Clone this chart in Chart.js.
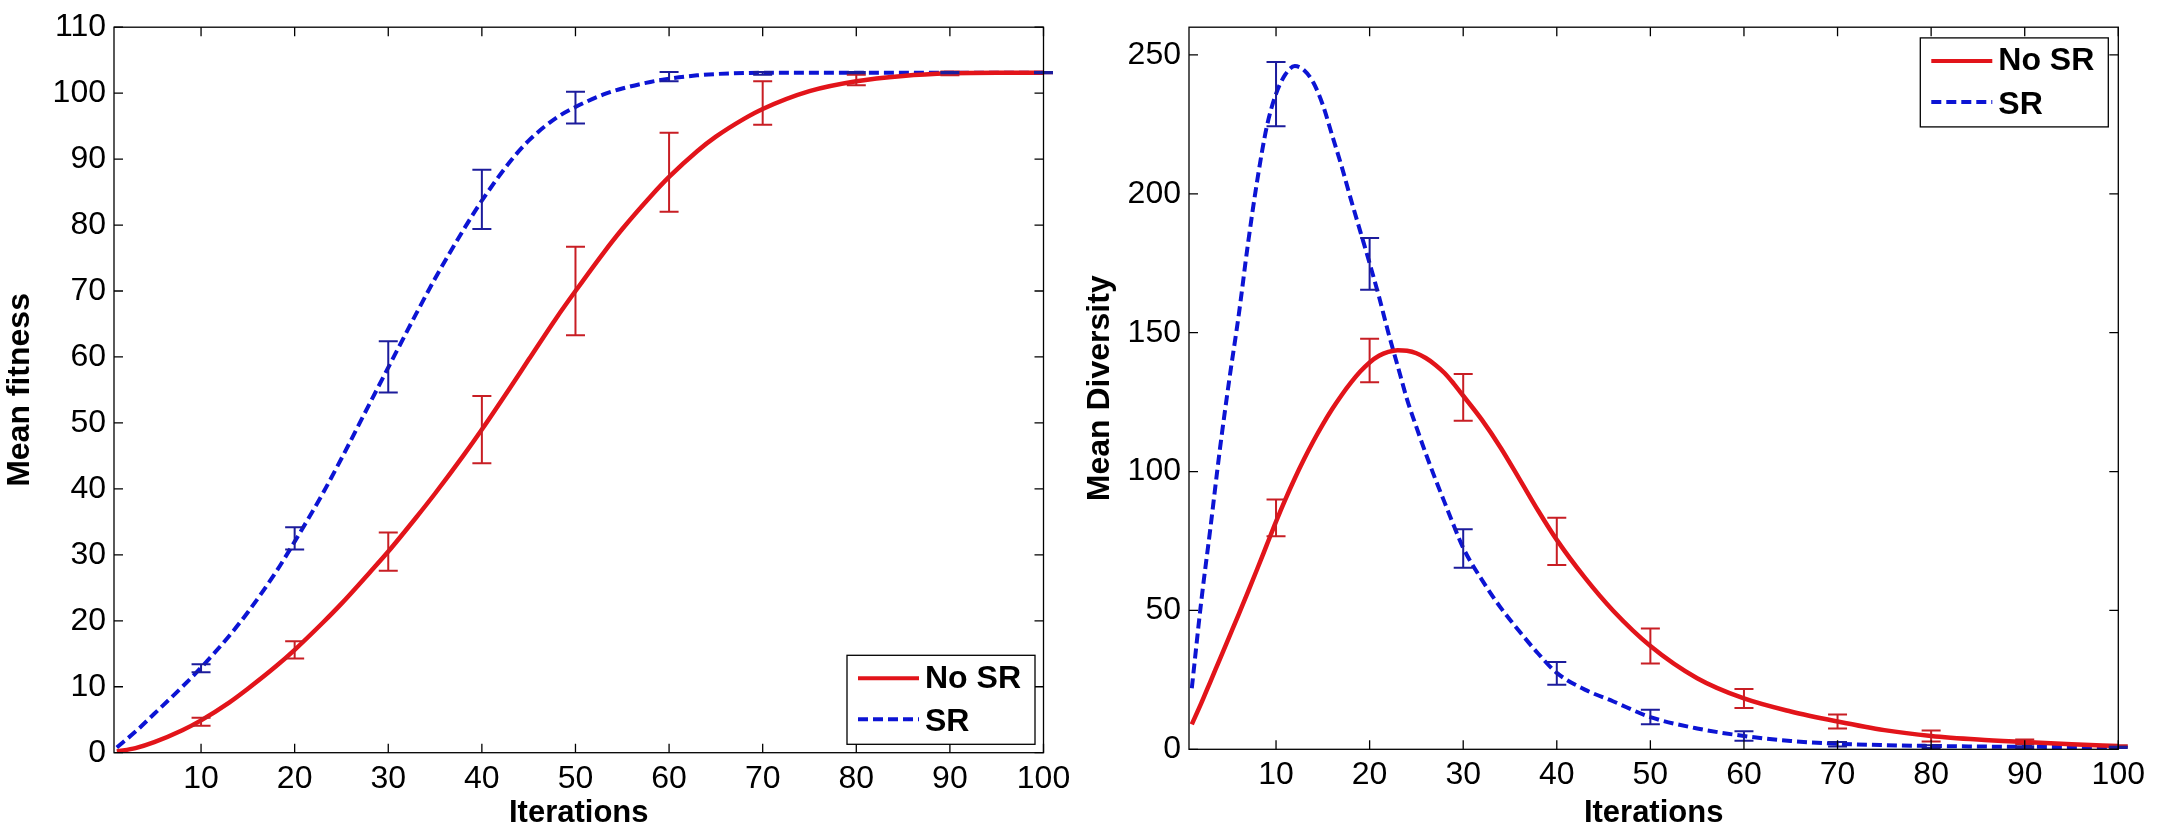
<!DOCTYPE html>
<html>
<head>
<meta charset="utf-8">
<script src="https://cdn.jsdelivr.net/npm/chart.js@4.4.1/dist/chart.umd.min.js"></script>
<style>
  html, body { margin: 0; padding: 0; background: #fff; }
  body { width: 2160px; height: 832px; position: relative; overflow: hidden; }
  .box { position: absolute; top: 0; width: 1080px; height: 832px; }
</style>
</head>
<body>
<div class="box" style="left:0"><canvas id="fitChart"></canvas></div>
<div class="box" style="left:1080px"><canvas id="divChart"></canvas></div>
<script>
// ---- data ----
const xTickVals = [10, 20, 30, 40, 50, 60, 70, 80, 90, 100];
const fitTickVals = [0, 10, 20, 30, 40, 50, 60, 70, 80, 90, 100, 110];
const divTickVals = [0, 50, 100, 150, 200, 250];

const fitIters = [1, 3, 5, 8, 10, 13, 15, 18, 20, 23, 25, 28, 30, 33, 35, 38, 40, 43, 45, 48, 50, 53, 55, 58, 60, 63, 65, 68, 70, 75, 80, 85, 90, 95, 100];
const fitNoSR = [0.2, 0.7, 1.6, 3.4, 4.9, 7.6, 9.7, 13.1, 15.6, 19.7, 22.6, 27.3, 30.5, 35.7, 39.3, 45.0, 49.0, 55.3, 59.6, 66.0, 70.0, 75.8, 79.4, 84.3, 87.3, 91.2, 93.4, 96.1, 97.6, 100.3, 101.8, 102.6, 103.0, 103.1, 103.1];
const fitSR = [0.8, 3.2, 5.9, 10.0, 12.9, 17.7, 21.3, 27.4, 32.0, 39.3, 44.6, 52.9, 58.4, 66.6, 71.9, 79.2, 83.7, 89.6, 92.8, 96.3, 97.9, 99.8, 100.7, 101.7, 102.2, 102.7, 102.9, 103.05, 103.1, 103.1, 103.1, 103.1, 103.1, 103.1, 103.1];

const divIters = [1, 2, 3, 4, 5, 6, 7, 8, 9, 10, 11, 12, 13, 14, 15, 16, 17, 18, 19, 20, 21, 22, 23, 24, 25, 26, 27, 28, 29, 30, 32, 34, 36, 38, 40, 43, 46, 50, 55, 60, 65, 70, 75, 80, 85, 90, 95, 100];
const divNoSR = [9, 16.5, 24.5, 32.5, 40.5, 48.5, 56.7, 65, 73.5, 82, 90, 97.5, 104.5, 111, 117, 122.5, 127.5, 132, 136, 139.3, 141.7, 143.1, 143.7, 143.5, 142.6, 140.9, 138.5, 135.5, 131.6, 127.3, 118.6, 108.6, 97.4, 86.0, 75.4, 61.8, 50.0, 37.2, 25.6, 18.3, 13.6, 10.0, 6.9, 4.8, 3.5, 2.6, 1.8, 1.2];
const divSR = [22, 53, 80, 108, 133, 156, 182, 205, 224, 236, 243, 246, 244.5, 240, 232, 221, 210, 198, 186.5, 175, 163, 150, 138, 126, 116, 106.5, 97.5, 89, 80.5, 72.5, 61, 51, 42.5, 34.5, 27.5, 21.5, 17.3, 11.6, 7.5, 4.8, 3.0, 2.0, 1.5, 1.2, 1.0, 0.9, 0.8, 0.7];

// error bars: centre and half-length at every 10 iterations
const errIters = [10, 20, 30, 40, 50, 60, 70, 80, 90, 100];
const fitNoSRMean = [4.7, 15.6, 30.5, 49.0, 70.0, 88.0, 98.5, 102.0, 103.0, 103.1];
const fitNoSRErr = [0.6, 1.3, 2.9, 5.1, 6.7, 6.0, 3.3, 0.8, 0.3, 0.1];
const fitSRMean = [12.8, 32.5, 58.5, 83.9, 97.8, 102.5, 103.0, 103.1, 103.1, 103.1];
const fitSRErr = [0.6, 1.7, 3.9, 4.5, 2.4, 0.7, 0.2, 0.1, 0.1, 0.1];
const divNoSRMean = [83.3, 140.0, 126.7, 74.9, 37.2, 18.3, 10.0, 4.8, 2.7, 1.2];
const divNoSRErr = [6.6, 7.8, 8.4, 8.5, 6.3, 3.4, 2.5, 2.0, 0.8, 0.3];
const divSRMean = [235.9, 174.8, 72.3, 27.3, 11.6, 4.8, 1.8, 1.0, 0.8, 0.7];
const divSRErr = [11.6, 9.3, 6.9, 4.1, 2.6, 1.7, 0.8, 0.5, 0.3, 0.2];

const FONT = "'Liberation Sans', Arial, Helvetica, sans-serif";
const RED = '#e2141a', RED_BAR = '#c81e24';
const BLUE = '#0c14d4', BLUE_BAR = '#1c1c9c';

const toPts = (xs, ys) => xs.map((x, i) => ({x: x, y: ys[i]}));

// error bars drawn through the chart scales
const errorBarPlugin = {
  id: 'errorBars',
  afterDatasetsDraw(chart) {
    const {ctx, scales: {x, y}} = chart;
    ctx.save();
    chart.data.datasets.forEach(ds => {
      if (!ds.errMean) return;
      ctx.strokeStyle = ds.errColor;
      ctx.lineWidth = 2;
      ctx.beginPath();
      errIters.forEach((xv, i) => {
        const px = x.getPixelForValue(xv);
        const top = y.getPixelForValue(ds.errMean[i] + ds.errHalf[i]);
        const bot = y.getPixelForValue(ds.errMean[i] - ds.errHalf[i]);
        ctx.moveTo(px, top); ctx.lineTo(px, bot);
        ctx.moveTo(px - 9.5, top); ctx.lineTo(px + 9.5, top);
        ctx.moveTo(px - 9.5, bot); ctx.lineTo(px + 9.5, bot);
      });
      ctx.stroke();
    });
    ctx.restore();
  }
};

// matlab style box with ticks pointing inwards
const framePlugin = {
  id: 'frame',
  afterDatasetsDraw(chart) {
    const {ctx, chartArea: a, scales: {x, y}} = chart;
    const len = 9;
    ctx.save();
    ctx.strokeStyle = '#000';
    ctx.lineWidth = 1.3;
    ctx.strokeRect(a.left, a.top, a.right - a.left, a.bottom - a.top);
    ctx.beginPath();
    x.ticks.forEach(t => {
      const px = x.getPixelForValue(t.value);
      ctx.moveTo(px, a.bottom); ctx.lineTo(px, a.bottom - len);
      ctx.moveTo(px, a.top); ctx.lineTo(px, a.top + len);
    });
    y.ticks.forEach(t => {
      const py = y.getPixelForValue(t.value);
      ctx.moveTo(a.left, py); ctx.lineTo(a.left + len, py);
      ctx.moveTo(a.right, py); ctx.lineTo(a.right - len, py);
    });
    ctx.stroke();
    ctx.restore();
  }
};

// legend box inside the plot area
const boxLegendPlugin = {
  id: 'boxLegend',
  afterDraw(chart, args, opts) {
    const {ctx, chartArea: a} = chart;
    const w = 188, h = 89;
    const left = a.right - opts.dx - w;
    const top = opts.corner === 'br' ? a.bottom - opts.dy - h : a.top + opts.dy;
    ctx.save();
    ctx.fillStyle = '#fff';
    ctx.fillRect(left, top, w, h);
    ctx.strokeStyle = '#000';
    ctx.lineWidth = 1.3;
    ctx.strokeRect(left, top, w, h);
    const lineY = [23, 64], textY = [23.5, 67];
    chart.data.datasets.forEach((ds, i) => {
      ctx.beginPath();
      ctx.strokeStyle = ds.borderColor;
      ctx.lineWidth = 4;
      ctx.setLineDash(ds.borderDash || []);
      ctx.moveTo(left + 11, top + lineY[i]);
      ctx.lineTo(left + 72, top + lineY[i]);
      ctx.stroke();
      ctx.setLineDash([]);
      ctx.fillStyle = '#000';
      ctx.font = 'bold 32px ' + FONT;
      ctx.textBaseline = 'middle';
      ctx.textAlign = 'left';
      ctx.fillText(ds.label, left + 78, top + textY[i]);
    });
    ctx.restore();
  }
};

function buildOptions(yMax, yTicks, yTitle, yWidth, xHeight, pad, legendOpts) {
  return {
    responsive: true,
    maintainAspectRatio: false,
    animation: false,
    devicePixelRatio: 1,
    layout: { padding: pad },
    elements: { point: { radius: 0 } },
    plugins: {
      legend: { display: false },
      tooltip: { enabled: false },
      boxLegend: legendOpts
    },
    scales: {
      x: {
        type: 'linear', min: 0.7, max: 100,
        afterBuildTicks: s => { s.ticks = xTickVals.map(v => ({value: v})); },
        afterFit: s => { s.height = xHeight; },
        grid: { display: false, drawTicks: false },
        border: { display: false },
        ticks: { color: '#000', font: { family: FONT, size: 32 }, padding: 7, maxRotation: 0 },
        title: { display: true, text: 'Iterations', color: '#000', font: { family: FONT, size: 31, weight: 'bold' }, padding: 0 }
      },
      y: {
        type: 'linear', min: 0, max: yMax,
        afterBuildTicks: s => { s.ticks = yTicks.map(v => ({value: v})); },
        afterFit: s => { s.width = yWidth; },
        grid: { display: false, drawTicks: false },
        border: { display: false },
        ticks: { color: '#000', font: { family: FONT, size: 32 }, padding: 8 },
        title: { display: true, text: yTitle, color: '#000', font: { family: FONT, size: 32, weight: 'bold' }, padding: 1 }
      }
    }
  };
}

function lineSets(noSR, sr, xs, noMean, noErr, srMean, srErr) {
  return [
    { label: 'No SR', data: toPts(xs, noSR), borderColor: RED, borderWidth: 4.5, fill: false,
      cubicInterpolationMode: 'monotone', errMean: noMean, errHalf: noErr, errColor: RED_BAR },
    { label: 'SR', data: toPts(xs, sr), borderColor: BLUE, borderWidth: 4, borderDash: [10, 5], fill: false,
      cubicInterpolationMode: 'monotone', errMean: srMean, errHalf: srErr, errColor: BLUE_BAR }
  ];
}

new Chart(document.getElementById('fitChart'), {
  type: 'line',
  data: { datasets: lineSets(fitNoSR, fitSR, fitIters, fitNoSRMean, fitNoSRErr, fitSRMean, fitSRErr) },
  options: buildOptions(110, fitTickVals, 'Mean fitness', 114, 79.3,
    { left: 0, top: 20.7, right: 36.5, bottom: 0 },
    { corner: 'br', dx: 8.5, dy: 8.4 }),
  plugins: [errorBarPlugin, framePlugin, boxLegendPlugin]
});

new Chart(document.getElementById('divChart'), {
  type: 'line',
  data: { datasets: lineSets(divNoSR, divSR, divIters, divNoSRMean, divNoSRErr, divSRMean, divSRErr) },
  options: buildOptions(260, divTickVals, 'Mean Diversity', 109, 82.7,
    { left: 0, top: 16, right: 41.7, bottom: 0 },
    { corner: 'tr', dx: 10, dy: 10.7 }),
  plugins: [errorBarPlugin, framePlugin, boxLegendPlugin]
});
</script>
</body>
</html>
